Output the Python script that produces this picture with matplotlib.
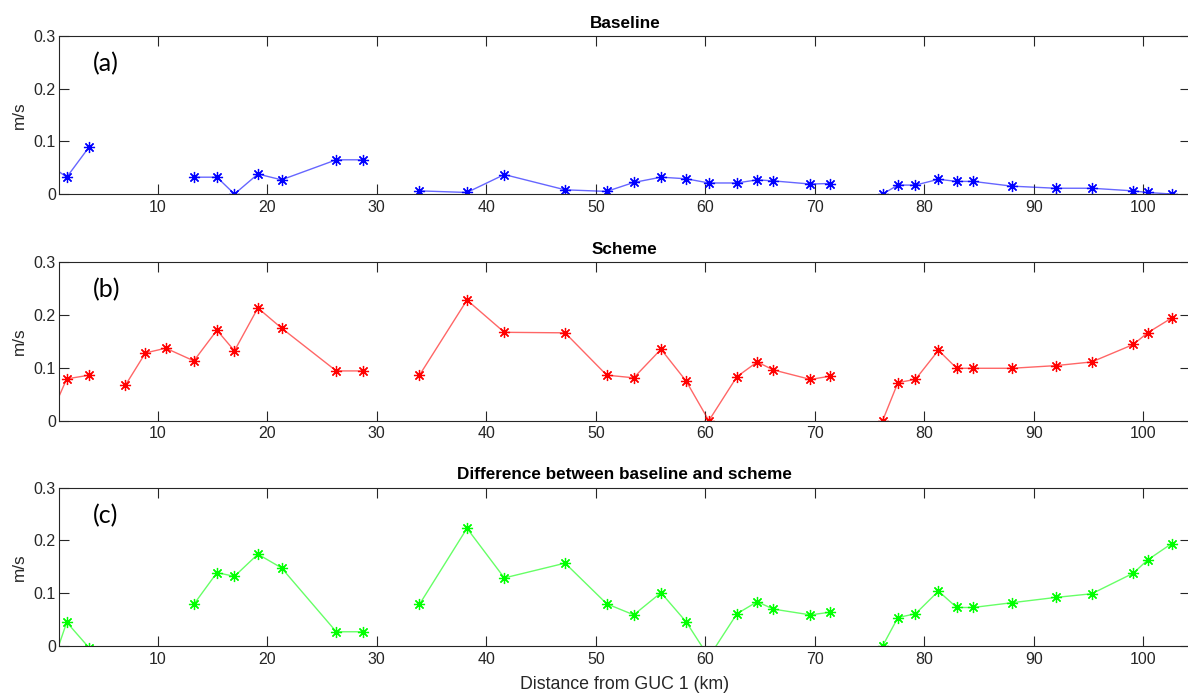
import matplotlib.pyplot as plt
import numpy as np

plt.rcParams['font.family'] = ['Liberation Sans', 'DejaVu Sans']

# distance along the section (km); nan rows are breaks in the lines
distance = [0, 1.68, 3.75, 5.4, 7.04, 8.87, 10.73, 13.29, 15.4, 17.0, 19.14, 21.3,
            26.3, 28.7, 31.3, 33.9, 38.24, 41.65, 47.2, 51.0, 53.47, 55.96, 58.25,
            60.33, 62.89, 64.75, 66.2, 69.6, 71.4, 73.8, 76.2, 77.6, 79.2, 81.3,
            82.97, 84.46, 88.0, 92.0, 95.3, 99.1, 100.4, 102.6]

baseline = [0.057, 0.032, 0.090, np.nan, np.nan, np.nan, np.nan, 0.032, 0.032, 0.0,
            0.038, 0.027, 0.065, 0.065, np.nan, 0.006, 0.003, 0.037, 0.008, 0.005,
            0.022, 0.032, 0.029, 0.021, 0.021, 0.027, 0.025, 0.019, 0.020, np.nan,
            0.0, 0.017, 0.017, 0.028, 0.024, 0.024, 0.015, 0.011, 0.011, 0.006,
            0.003, 0.0]

scheme = [0.0, 0.079, 0.086, np.nan, 0.067, 0.128, 0.137, 0.113, 0.171, 0.132,
          0.213, 0.175, 0.094, 0.094, np.nan, 0.086, 0.228, 0.167, 0.166, 0.086,
          0.081, 0.135, 0.075, 0.0, 0.083, 0.111, 0.096, 0.078, 0.084, np.nan,
          0.0, 0.072, 0.078, 0.133, 0.099, 0.099, 0.099, 0.104, 0.111, 0.144,
          0.166, 0.194]

difference = [-0.057, 0.045, -0.004, np.nan, np.nan, np.nan, np.nan, 0.079, 0.139,
              0.132, 0.174, 0.148, 0.027, 0.027, np.nan, 0.079, 0.223, 0.129, 0.157,
              0.080, 0.059, 0.101, 0.046, -0.021, 0.061, 0.084, 0.070, 0.059, 0.064,
              np.nan, 0.0, 0.054, 0.061, 0.104, 0.073, 0.073, 0.082, 0.092, 0.099,
              0.138, 0.163, 0.194]

panels = [
    {"title": "Baseline", "tag": "(a)", "values": baseline, "color": (0, 0, 1),
     "rect": [0.0499, 0.720, 0.952, 0.228]},
    {"title": "Scheme", "tag": "(b)", "values": scheme, "color": (1, 0, 0),
     "rect": [0.0499, 0.393, 0.952, 0.229]},
    {"title": "Difference between baseline and scheme", "tag": "(c)",
     "values": difference, "color": (0, 1, 0),
     "rect": [0.0499, 0.0678, 0.952, 0.2285]},
]

fig = plt.figure(figsize=(11.88, 6.93), dpi=100)

for p in panels:
    ax = fig.add_axes(p["rect"])
    ax.plot(distance, p["values"], color=p["color"], lw=1.0, alpha=0.6)
    # matlab style '*' marker: 8 spoke asterisk
    ax.plot(distance, p["values"], ls='none', marker=(8, 2, 0), ms=8, mew=0.9,
            color=p["color"])
    ax.set_xlim(1, 104.3)
    ax.set_ylim(0, 0.3)
    ax.set_xticks(range(10, 101, 10))
    ax.set_yticks([0, 0.1, 0.2, 0.3])
    ax.set_yticklabels(["0", "0.1", "0.2", "0.3"])
    ax.tick_params(direction='in', length=7.5, width=0.8, top=True, right=True,
                   labelsize=11.5, colors='#262626', pad=4)
    ax.tick_params(axis='y', pad=2.5)
    for s in ax.spines.values():
        s.set_color('#262626')
        s.set_linewidth(0.8)
    ax.set_title(p["title"], fontsize=12.3, fontweight='bold', pad=6)
    ax.set_ylabel("m/s", fontsize=12.3, color='#262626')
    ax.yaxis.set_label_coords(-0.029, 0.5)
    ax.text(0.0296, 0.826, p["tag"], transform=ax.transAxes, fontsize=18,
            va='center', family=['Lato', 'DejaVu Sans'])

ax.set_xlabel("Distance from GUC 1 (km)", fontsize=12.8, color='#262626')
ax.xaxis.set_label_coords(0.5, -0.19)

fig.savefig("out.png", dpi=100)
